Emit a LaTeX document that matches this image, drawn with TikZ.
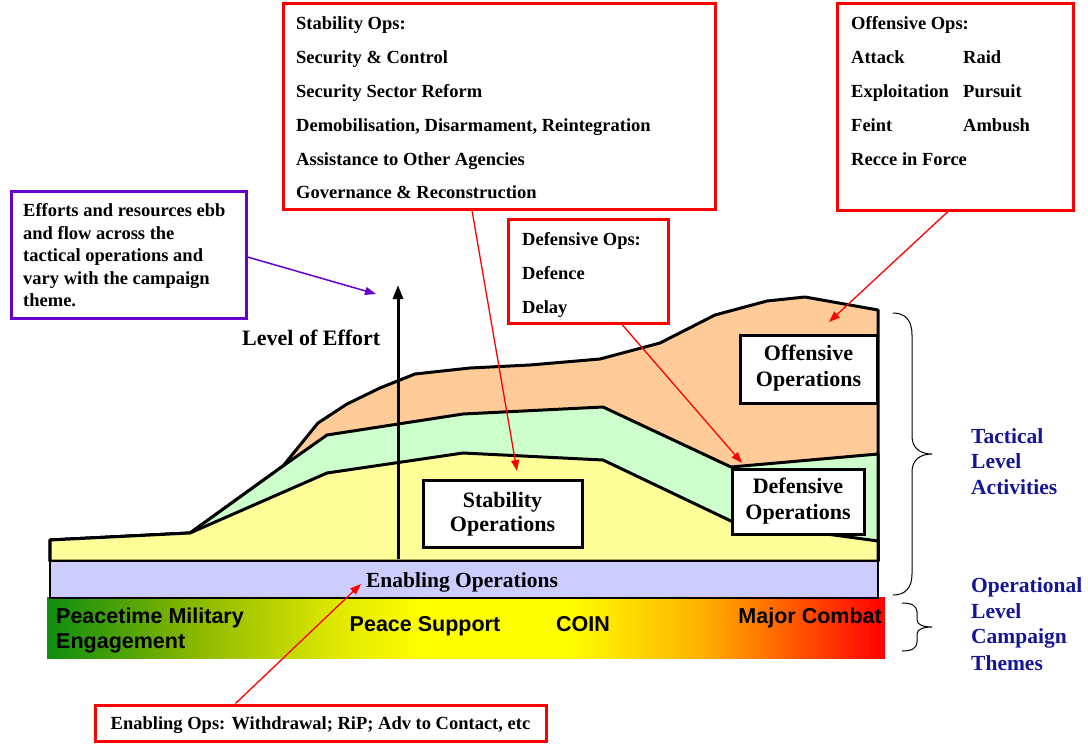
\documentclass[tikz,border=0pt]{standalone}
\usepackage{fontspec}
\setmainfont{Liberation Serif}
\newfontfamily\sansfam{Liberation Sans}
\usetikzlibrary{arrows.meta}
\definecolor{offfill}{HTML}{FFCC99}
\definecolor{deffill}{HTML}{CCFFCC}
\definecolor{stabfill}{HTML}{FFFF99}
\definecolor{enabfill}{HTML}{CCCCFF}
\definecolor{purp}{HTML}{6600CC}
\definecolor{navy}{RGB}{20,20,150}
\definecolor{cgA}{RGB}{15,140,15}
\definecolor{cgB}{RGB}{140,185,0}
\definecolor{cgC}{RGB}{230,236,0}
\definecolor{cgY}{RGB}{255,255,0}
\definecolor{cgO}{RGB}{255,178,0}
\definecolor{cgR}{RGB}{255,0,0}
\pgfdeclarehorizontalshading{campaign}{100bp}{color(0bp)=(cgA); color(25bp)=(cgA); color(34bp)=(cgB); color(43bp)=(cgC); color(47.5bp)=(cgY); color(56bp)=(cgY); color(64bp)=(cgO); color(75bp)=(cgR); color(100bp)=(cgR)}
\tikzset{
  redbox/.style={draw=red, line width=3pt, fill=white, inner sep=0pt},
  blkbox/.style={draw=black, line width=3pt, fill=white, inner sep=0pt},
  purpbox/.style={draw=purp, line width=3pt, fill=white, inner sep=0pt},
  lbl/.style={anchor=base west, inner sep=0pt, font=\bfseries\fontsize{18.5}{22}\selectfont},
  clbl/.style={anchor=base, inner sep=0pt, font=\bfseries\fontsize{22}{26}\selectfont},
  blbl/.style={anchor=base west, inner sep=0pt, text=navy, font=\bfseries\fontsize{21.5}{25}\selectfont},
  glbl/.style={inner sep=0pt, font=\sansfam\bfseries\fontsize{21.5}{25}\selectfont},
  layer/.style={draw=black, line width=3pt, line join=round},
  redarr/.style={draw=red, line width=1.3pt, -{Triangle[length=11pt,width=8pt]}},
  brc/.style={draw=black, line width=1pt},
}
\begin{document}
\begin{tikzpicture}[x=1pt,y=-1pt]
\useasboundingbox (0,0) rectangle (1088,744);
% campaign theme gradient
\shade[shading=campaign] (47,597) rectangle (885,658);
% layers
\path[layer, fill=offfill] (50,561) -- (50,540) -- (190,533) -- (283,466) -- (318,423) -- (347,404) -- (380,388) -- (415,374) -- (470,368) -- (530,365) -- (600,359) -- (660,343) -- (715,315) -- (767,301) -- (805,297) -- (878,310) -- (878,561) -- cycle;
\path[layer, fill=deffill] (50,561) -- (50,540) -- (190,533) -- (283,466) -- (327,435) -- (463,414) -- (603,407) -- (731,467) -- (878,454) -- (878,561) -- cycle;
\path[layer, fill=stabfill] (50,561) -- (50,540) -- (190,533) -- (327,473) -- (463,453) -- (603,460) -- (731,521) -- (878,541) -- (878,561) -- cycle;
% enabling bar
\node[draw=black, line width=1.2pt, fill=enabfill, minimum width=828pt, minimum height=37pt, inner sep=0pt] (enab) at (464,579.5) {};
\node[clbl, font=\bfseries\fontsize{21.5}{25}\selectfont] (enabT) at (462,587) {Enabling Operations};
% gradient texts
\node[glbl, anchor=base west] (pme1) at (56,623) {Peacetime Military};
\node[glbl, anchor=base west] (pme2) at (56,648) {Engagement};
\node[glbl, anchor=base] (ps) at (425,631) {Peace Support};
\node[glbl, anchor=base] (coin) at (583,631) {COIN};
\node[glbl, anchor=base east] (mc) at (882,623) {Major Combat};
% chart boxes
\node[blkbox, minimum width=159pt, minimum height=67pt] (stabB) at (502.5,513.5) {};
\node[clbl] (stabB1) at (502.5,507) {Stability};
\node[clbl] (stabB2) at (502.5,531) {Operations};
\node[blkbox, minimum width=137pt, minimum height=68pt] (offB) at (808.5,369) {};
\node[clbl] (offB1) at (808.5,360) {Offensive};
\node[clbl] (offB2) at (808.5,386) {Operations};
\node[blkbox, minimum width=132pt, minimum height=65pt] (defB) at (798,501.5) {};
\node[clbl] (defB1) at (798,493) {Defensive};
\node[clbl] (defB2) at (798,519) {Operations};
% level of effort
\coordinate (loeBase) at (398,559);
\coordinate (loeTop) at (398,285);
\draw[line width=3pt, -{Triangle[length=14pt,width=10pt]}] (loeBase) -- (loeTop);
\node[anchor=base west, inner sep=0pt, font=\bfseries\fontsize{22}{26}\selectfont] (loe) at (242,345) {Level of Effort};
% stability ops box
\node[redbox, minimum width=432pt, minimum height=206pt] (stab) at (499,106) {};
\node[lbl] (s1) at (296,29) {Stability Ops:};
\node[lbl] (s2) at (296,63) {Security \& Control};
\node[lbl] (s3) at (296,97) {Security Sector Reform};
\node[lbl] (s4) at (296,131) {Demobilisation, Disarmament, Reintegration};
\node[lbl] (s5) at (296,165) {Assistance to Other Agencies};
\node[lbl] (s6) at (296,198) {Governance \& Reconstruction};
% offensive ops box
\node[redbox, minimum width=236pt, minimum height=207pt] (off) at (955,106.5) {};
\node[lbl] (o1) at (851,29) {Offensive Ops:};
\node[lbl] (o2) at (851,63) {Attack};
\node[lbl] (o3) at (963,63) {Raid};
\node[lbl] (o4) at (851,97) {Exploitation};
\node[lbl] (o5) at (963,97) {Pursuit};
\node[lbl] (o6) at (851,131) {Feint};
\node[lbl] (o7) at (963,131) {Ambush};
\node[lbl] (o8) at (851,165) {Recce in Force};
% defensive ops box
\node[redbox, minimum width=160pt, minimum height=104pt] (def) at (588,271) {};
\node[lbl] (d1) at (522,245) {Defensive Ops:};
\node[lbl] (d2) at (522,279) {Defence};
\node[lbl] (d3) at (522,313) {Delay};
% efforts box
\node[purpbox, minimum width=235pt, minimum height=127pt] (eff) at (128.5,254.5) {};
\node[lbl] (e1) at (23,216) {Efforts and resources ebb};
\node[lbl] (e2) at (23,239) {and flow across the};
\node[lbl] (e3) at (23,261) {tactical operations and};
\node[lbl] (e4) at (23,284) {vary with the campaign};
\node[lbl] (e5) at (23,306) {theme.};
% enabling ops box
\node[redbox, minimum width=451pt, minimum height=36pt] (en) at (320.5,723) {};
\node[anchor=base, inner sep=0pt, font=\bfseries\fontsize{18.5}{22}\selectfont] (enT) at (320.5,729.5) {Enabling Ops: Withdrawal; RiP; Adv to Contact, etc};
% connectors
\coordinate (tStab) at (517,471);
\coordinate (tDef) at (742,463);
\coordinate (tOff) at (829,322);
\coordinate (tEn) at (361,584);
\coordinate (tEff) at (376,294);
\draw[redarr] ([xshift=-27pt]stab.south) -- (tStab);
\draw[redarr] ([xshift=34pt]def.south) -- (tDef);
\draw[redarr] ([xshift=-7pt]off.south) -- (tOff);
\draw[redarr] ([xshift=-85pt]en.north) -- (tEn);
\draw[draw=purp, line width=1.5pt, -{Triangle[length=11pt,width=8pt]}] ([yshift=-2.5pt]eff.east) -- (tEff);
% braces
\draw[brc] (893,313) .. controls (905,313) and (912,320) .. (912,335) -- (912,436) .. controls (912,448) and (920,454) .. (932,454) .. controls (920,454) and (912,460) .. (912,472) -- (912,574) .. controls (912,588) and (905,595) .. (893,595);
\draw[brc] (902,603) .. controls (912,603) and (917,606) .. (917,612) -- (917,620) .. controls (917,625) and (924,627) .. (932,627) .. controls (924,627) and (917,629) .. (917,634) -- (917,642) .. controls (917,648) and (912,651) .. (902,651);
% level labels
\node[blbl] (t1) at (971,443) {Tactical};
\node[blbl] (t2) at (971,468) {Level};
\node[blbl] (t3) at (971,494) {Activities};
\node[blbl] (c1) at (971,592) {Operational};
\node[blbl] (c2) at (971,618) {Level};
\node[blbl] (c3) at (971,643) {Campaign};
\node[blbl] (c4) at (971,670) {Themes};
\end{tikzpicture}
\end{document}
